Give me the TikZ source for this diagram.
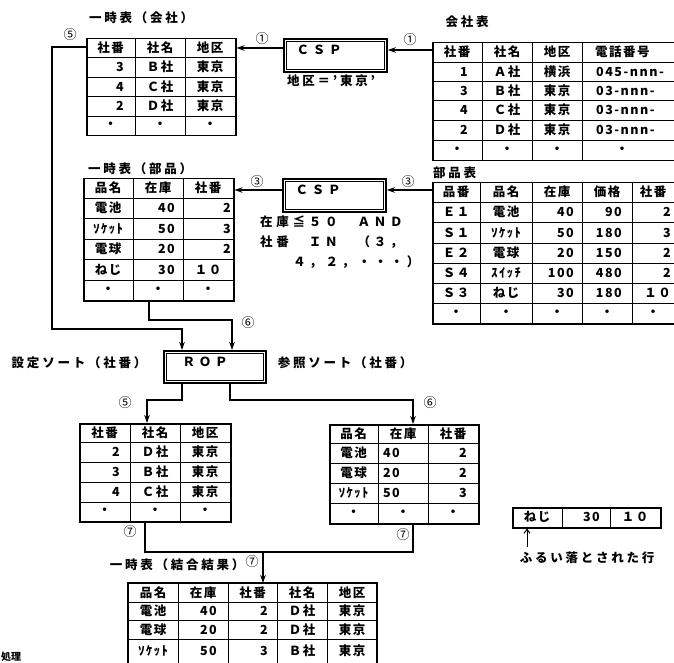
\documentclass[tikz,border=0pt]{standalone}
\usepackage{fontspec}
\setmainfont{Noto Sans CJK JP}
\newfontfamily\tabf{Noto Sans CJK JP}[LetterSpace=12]
\newfontfamily\ttlf{Noto Sans CJK JP}[LetterSpace=22]
\newfontfamily\cndf{Noto Sans CJK JP}[LetterSpace=30]
\usetikzlibrary{arrows.meta}
\tikzset{
  cell/.style={font={\tabf\bfseries\fontsize{12.5}{14}\selectfont}, inner sep=0pt},
  num/.style={cell, anchor=east},
  ttl/.style={font={\ttlf\bfseries\fontsize{12.5}{14}\selectfont}, inner sep=0pt},
  cnd/.style={font={\cndf\bfseries\fontsize{12.5}{14}\selectfont}, inner sep=0pt, anchor=west},
  circ/.style={font={\fontsize{13}{14}\selectfont}, inner sep=0pt},
  frame/.style={draw, line width=1.5pt, inner sep=0pt, anchor=north west},
  gridln/.style={line width=0.9pt},
  conn/.style={line width=1.5pt},
  arr/.style={conn, -{Stealth[length=8pt,width=5.5pt]}},
  procbox/.style={draw, line width=1.8pt, inner sep=0pt, anchor=north west},
  inbox/.style={line width=0.8pt},
}
\begin{document}
\begin{tikzpicture}[x=1pt,y=-1pt]
\useasboundingbox (0,0) rectangle (674,663);

% ---------- Table 1: 一時表（会社）
\node[ttl] (tt1) at (141,18) {一時表（会社）};
\node[frame, minimum width=149pt, minimum height=97pt] (T1) at (86,38) {};
\foreach \x in {135,185} \draw[gridln] (\x,38) -- (\x,135);
\foreach \y in {57,77,96,116} \draw[gridln] (86,\y) -- (235,\y);
\node[cell] (t1h1) at (110.5,47.5) {社番};
\node[cell] (t1h2) at (160,47.5) {社名};
\node[cell] (t1h3) at (210,47.5) {地区};
\node[num] (t1a1) at (124,67) {3};
\node[cell] (t1a2) at (160,67) {Ｂ社};
\node[cell] (t1a3) at (210,67) {東京};
\node[num] (t1b1) at (124,86.5) {4};
\node[cell] (t1b2) at (160,86.5) {Ｃ社};
\node[cell] (t1b3) at (210,86.5) {東京};
\node[num] (t1c1) at (124,106) {2};
\node[cell] (t1c2) at (160,106) {Ｄ社};
\node[cell] (t1c3) at (210,106) {東京};
\node[cell] (t1d1) at (110.5,125.5) {・};
\node[cell] (t1d2) at (160,125.5) {・};
\node[cell] (t1d3) at (210,125.5) {・};

% ---------- Table 2: 会社表
\node[ttl] (tt2) at (467,22) {会社表};
\node[frame, minimum width=258pt, minimum height=118pt] (T2) at (432,42) {};
\foreach \x in {482,532,582} \draw[gridln] (\x,42) -- (\x,160);
\foreach \y in {62,81,100,120,140} \draw[gridln] (432,\y) -- (690,\y);
\node[cell] (t2h1) at (457,52) {社番};
\node[cell] (t2h2) at (507,52) {社名};
\node[cell] (t2h3) at (557,52) {地区};
\node[cell, anchor=west] (t2h4) at (595,52) {電話番号};
\node[num] (t2a1) at (468,71.5) {1};
\node[cell] (t2a2) at (507,71.5) {Ａ社};
\node[cell] (t2a3) at (557,71.5) {横浜};
\node[cell, anchor=west] (t2a4) at (596,71.5) {045-nnn-};
\node[num] (t2b1) at (468,90.5) {3};
\node[cell] (t2b2) at (507,90.5) {Ｂ社};
\node[cell] (t2b3) at (557,90.5) {東京};
\node[cell, anchor=west] (t2b4) at (596,90.5) {03-nnn-};
\node[num] (t2c1) at (468,110) {4};
\node[cell] (t2c2) at (507,110) {Ｃ社};
\node[cell] (t2c3) at (557,110) {東京};
\node[cell, anchor=west] (t2c4) at (596,110) {03-nnn-};
\node[num] (t2d1) at (468,130) {2};
\node[cell] (t2d2) at (507,130) {Ｄ社};
\node[cell] (t2d3) at (557,130) {東京};
\node[cell, anchor=west] (t2d4) at (596,130) {03-nnn-};
\node[cell] (t2e1) at (457,150) {・};
\node[cell] (t2e2) at (507,150) {・};
\node[cell] (t2e3) at (557,150) {・};
\node[cell] (t2e4) at (622,150) {・};

% ---------- CSP 1
\node[procbox, minimum width=103pt, minimum height=33pt] (csp1) at (283,38) {};
\draw[inbox] ([xshift=3.2pt,yshift=-3.2pt]csp1.north west) rectangle ([xshift=-3.2pt,yshift=3.2pt]csp1.south east);
\node[cnd, anchor=center] (csp1t) at (319,50) {ＣＳＰ};
\node[ttl, anchor=west] (csp1c) at (287,81) {地区＝’東京’};
\draw[arr] (T2.west |- 0,50) -- (csp1.east |- 0,50);
\draw[arr] (csp1.west |- 0,48) -- (T1.east |- 0,48);
\node[circ] (c1a) at (262,39) {①};
\node[circ] (c1b) at (410,40) {①};

% ---------- Table 3: 部品表
\node[ttl, anchor=west] (tt3) at (433,173) {部品表};
\node[frame, minimum width=258pt, minimum height=141pt] (T3) at (432,182) {};
\foreach \x in {480,532,582,632} \draw[gridln] (\x,182) -- (\x,323);
\foreach \y in {202,222,243,263,283,303} \draw[gridln] (432,\y) -- (690,\y);
\node[cell] at (456,192) {品番};
\node[cell] at (506,192) {品名};
\node[cell] at (557,192) {在庫};
\node[cell] at (607,192) {価格};
\node[cell] at (653,192) {社番};
\node[cell] at (456,212) {Ｅ１};
\node[cell] at (506,212) {電池};
\node[num] at (574,212) {40};
\node[num] at (622,212) {90};
\node[num] at (671,212) {2};
\node[cell] at (456,232.5) {Ｓ１};
\node[cell] at (506,232.5) {ｿｹｯﾄ};
\node[num] at (574,232.5) {50};
\node[num] at (622,232.5) {180};
\node[num] at (671,232.5) {3};
\node[cell] at (456,253) {Ｅ２};
\node[cell] at (506,253) {電球};
\node[num] at (574,253) {20};
\node[num] at (622,253) {150};
\node[num] at (671,253) {2};
\node[cell] at (456,273) {Ｓ４};
\node[cell] at (506,273) {ｽｲｯﾁ};
\node[num] at (574,273) {100};
\node[num] at (622,273) {480};
\node[num] at (671,273) {2};
\node[cell] at (456,293) {Ｓ３};
\node[cell] at (506,293) {ねじ};
\node[num] at (574,293) {30};
\node[num] at (622,293) {180};
\node[num] at (671,293) {１０};
\foreach \x in {456,506,557,607,653} \node[cell] at (\x,313) {・};

% ---------- CSP 2
\node[procbox, minimum width=103pt, minimum height=33pt] (csp2) at (282,178) {};
\draw[inbox] ([xshift=3.2pt,yshift=-3.2pt]csp2.north west) rectangle ([xshift=-3.2pt,yshift=3.2pt]csp2.south east);
\node[cnd, anchor=center] (csp2t) at (318,190) {ＣＳＰ};
\node[cnd] (cond1) at (260,222) {在庫≦５０　ＡＮＤ};
\node[cnd] (cond2) at (260,242) {社番　ＩＮ　（３，};
\node[cnd] (cond3) at (293,262) {４，２，・・・）};
\draw[arr] (T3.west |- 0,190) -- (csp2.east |- 0,190);
\node[circ] (c3a) at (257,182) {③};
\node[circ] (c3b) at (408,182) {③};

% ---------- Table 4: 一時表（部品）
\node[ttl] (tt4) at (140,169) {一時表（部品）};
\node[frame, minimum width=150pt, minimum height=122pt] (T4) at (83,178) {};
\foreach \x in {133,183} \draw[gridln] (\x,178) -- (\x,300);
\foreach \y in {198,218,239,259,280} \draw[gridln] (83,\y) -- (233,\y);
\node[cell] at (108,188) {品名};
\node[cell] at (158,188) {在庫};
\node[cell] at (208,188) {社番};
\node[cell] at (108,208) {電池};
\node[num] at (175,208) {40};
\node[num] at (231,208) {2};
\node[cell] at (108,228.5) {ｿｹｯﾄ};
\node[num] at (175,228.5) {50};
\node[num] at (231,228.5) {3};
\node[cell] at (108,249) {電球};
\node[num] at (175,249) {20};
\node[num] at (231,249) {2};
\node[cell] at (108,269.5) {ねじ};
\node[num] at (175,269.5) {30};
\node[cell] at (208,269.5) {１０};
\foreach \x in {108,158,208} \node[cell] at (\x,290) {・};
\draw[arr] (csp2.west |- 0,190) -- (T4.east |- 0,190);

% ---------- ROP
\node[procbox, minimum width=102pt, minimum height=32pt] (rop) at (163,350) {};
\draw[inbox] ([xshift=3.2pt,yshift=-3.2pt]rop.north west) rectangle ([xshift=-3.2pt,yshift=3.2pt]rop.south east);
\node[cnd, anchor=center] (ropt) at (205,362) {ＲＯＰ};
\node[ttl] (lbl1) at (79,363) {設定ソート（社番）};
\node[ttl] (lbl2) at (345,363) {参照ソート（社番）};

\draw[arr] (T1.west |- 0,47) -- (52,47) -- (52,329) -- (182,329) -- (rop.north -| 182,0);
\node[circ] (c5a) at (70,35) {⑤};
\draw[arr] (T4.south -| 149,0) -- (149,320) -- (232,320) -- (rop.north -| 232,0);
\node[circ] (c6a) at (248,323) {⑥};

% ---------- Table 5
\node[frame, minimum width=151pt, minimum height=98pt] (T5) at (79,423) {};
\foreach \x in {130,180} \draw[gridln] (\x,423) -- (\x,521);
\foreach \y in {442,462,482,502} \draw[gridln] (79,\y) -- (230,\y);
\node[cell] at (104.5,432.5) {社番};
\node[cell] at (155,432.5) {社名};
\node[cell] at (205,432.5) {地区};
\node[num] at (120,452) {2};
\node[cell] at (155,452) {Ｄ社};
\node[cell] at (205,452) {東京};
\node[num] at (120,472) {3};
\node[cell] at (155,472) {Ｂ社};
\node[cell] at (205,472) {東京};
\node[num] at (120,492) {4};
\node[cell] at (155,492) {Ｃ社};
\node[cell] at (205,492) {東京};
\foreach \x in {104.5,155,205} \node[cell] at (\x,511.5) {・};

% ---------- Table 6
\node[frame, minimum width=149pt, minimum height=99pt] (T6) at (329,424) {};
\foreach \x in {378,428} \draw[gridln] (\x,424) -- (\x,523);
\foreach \y in {443,463,483,503} \draw[gridln] (329,\y) -- (478,\y);
\node[cell] at (353.5,433.5) {品名};
\node[cell] at (403,433.5) {在庫};
\node[cell] at (453,433.5) {社番};
\node[cell] at (353.5,453) {電池};
\node[num] at (400,453) {40};
\node[num] at (467,453) {2};
\node[cell] at (353.5,473) {電球};
\node[num] at (400,473) {20};
\node[num] at (467,473) {2};
\node[cell] at (353.5,493) {ｿｹｯﾄ};
\node[num] at (400,493) {50};
\node[num] at (467,493) {3};
\foreach \x in {353.5,403,453} \node[cell] at (\x,513) {・};

\draw[arr] (rop.south -| 182,0) -- (182,400) -- (147,400) -- (T5.north -| 147,0);
\node[circ] (c5b) at (125,403) {⑤};
\draw[arr] (rop.south -| 230,0) -- (230,400) -- (413,400) -- (T6.north -| 413,0);
\node[circ] (c6b) at (430,403) {⑥};

% ---------- Join to result
\coordinate (jn) at (263,552);
\draw[conn] (T5.south -| 145,0) -- (145,552) -- (413,552) -- (T6.south -| 413,0);
\node[circ] (c7a) at (130,532) {⑦};
\node[circ] (c7b) at (403,535) {⑦};
\node[circ] (c7c) at (252,562) {⑦};

% ---------- Table 7: 一時表（結合結果）
\node[ttl] (tt7) at (177,565) {一時表（結合結果）};
\node[draw=none, inner sep=0pt, anchor=north west, minimum width=249pt, minimum height=100pt] (T7) at (128,583) {};
\draw[line width=1.5pt] (128,700) -- (128,583) -- (377,583) -- (377,700);
\foreach \x in {178,228,277,327} \draw[gridln] (\x,583) -- (\x,700);
\foreach \y in {602,620,639} \draw[gridln] (128,\y) -- (377,\y);
\draw[arr] (jn) -- (T7.north -| jn);
\node[cell] at (153,592.5) {品名};
\node[cell] at (203,592.5) {在庫};
\node[cell] at (252.5,592.5) {社番};
\node[cell] at (302,592.5) {社名};
\node[cell] at (352,592.5) {地区};
\node[cell] at (153,611) {電池};
\node[num] at (217,611) {40};
\node[num] at (268,611) {2};
\node[cell] at (302,611) {Ｄ社};
\node[cell] at (352,611) {東京};
\node[cell] at (153,629.5) {電球};
\node[num] at (217,629.5) {20};
\node[num] at (268,629.5) {2};
\node[cell] at (302,629.5) {Ｄ社};
\node[cell] at (352,629.5) {東京};
\node[cell] at (153,651) {ｿｹｯﾄ};
\node[num] at (217,651) {50};
\node[num] at (268,651) {3};
\node[cell] at (302,651) {Ｂ社};
\node[cell] at (352,651) {東京};

% ---------- Filtered row
\node[frame, minimum width=148pt, minimum height=20pt] (T8) at (512,507) {};
\foreach \x in {562,610} \draw[gridln] (\x,507) -- (\x,527);
\node[cell] at (537,517) {ねじ};
\node[num] at (600,517) {30};
\node[cell] at (635,517) {１０};
\coordinate (fr) at (527,547);
\draw[line width=1pt, -{Straight Barb[length=4pt,width=6pt]}] (fr) -- (T8.south -| fr);
\node[ttl] (frl) at (587,558) {ふるい落とされた行};

% ---------- caption at the lower left
\node[font={\bfseries\fontsize{10}{11}\selectfont}, inner sep=0pt, anchor=south west] (cap) at (1,662) {処理};
\end{tikzpicture}
\end{document}
